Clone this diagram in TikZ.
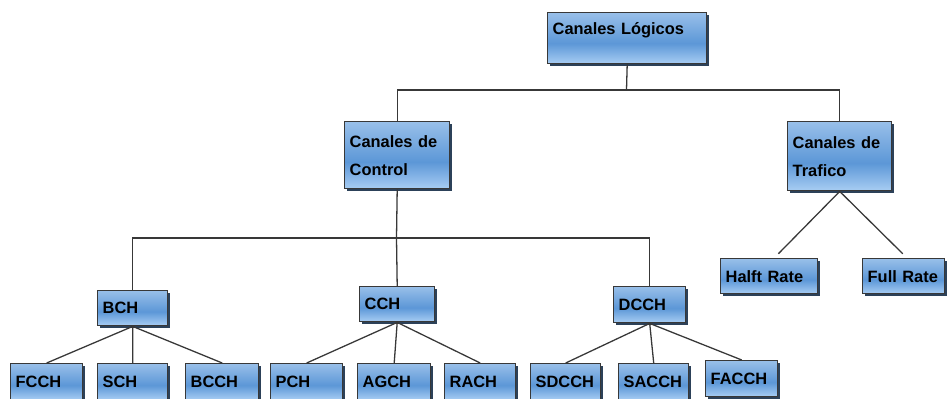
\documentclass[tikz,border=0pt]{standalone}
\usepackage{fontspec}
\setmainfont{Liberation Sans}
\usetikzlibrary{shadows}
\definecolor{boxtop}{HTML}{98BFE9}
\definecolor{boxmid}{HTML}{5C97D7}
\definecolor{boxbot}{HTML}{A8CDF3}
\definecolor{boxline}{HTML}{383838}
\definecolor{boxshadow}{HTML}{2C4159}
\pgfdeclareverticalshading{chan shade}{100bp}{color(0bp)=(boxbot); color(25bp)=(boxbot);
    color(45bp)=(boxmid); color(75bp)=(boxtop); color(100bp)=(boxtop)}
\tikzset{
    chan box/.style = {draw=boxline, line width=1.2pt, anchor=north west,
        shade, shading=chan shade,
        drop shadow={shadow xshift=0.08cm, shadow yshift=-0.08cm, fill=boxshadow, opacity=1},
        font=\bfseries\fontsize{14}{24}\selectfont, align=left,
        inner xsep=0.15cm, inner ysep=0.1cm},
    chan line/.style = {draw=boxline, line width=1.1pt},
}

\begin{document}
\begin{tikzpicture}[x=0.03cm, y=-0.03cm]
            \useasboundingbox (0, 0) rectangle (947, 399);

            \node[chan box, text width=4.47cm, text height=0.56cm, text depth=0.77cm] (logicos) at (547, 12) {Canales Lógicos};

            \node[chan box, text width=2.85cm, minimum height=2.01cm] (control) at (344, 121) {Canales de\\Control};
            \node[chan box, text width=2.82cm, minimum height=2.07cm] (trafico) at (787, 121) {Canales de\\Trafico};

            \node[chan box, text width=1.8cm, minimum height=1.05cm] (bch) at (97, 290) {BCH};
            \node[chan box, text width=1.95cm, minimum height=1.05cm] (cch) at (359, 286) {CCH};
            \node[chan box, text width=1.86cm, minimum height=1.08cm] (dcch) at (613, 286) {DCCH};

            \node[chan box, text width=2.61cm, minimum height=1.05cm] (halft) at (720, 258) {Halft Rate};
            \node[chan box, text width=2.16cm, minimum height=1.05cm] (full) at (862, 258) {Full Rate};

            \node[chan box, text width=1.86cm, minimum height=1.08cm] (fcch) at (10, 363) {FCCH};
            \node[chan box, text width=1.8cm, minimum height=1.08cm] (sch) at (97, 363) {SCH};
            \node[chan box, text width=1.89cm, minimum height=1.08cm] (bcch) at (185, 363) {BCCH};

            \node[chan box, text width=1.86cm, minimum height=1.08cm] (pch) at (270, 363) {PCH};
            \node[chan box, text width=1.89cm, minimum height=1.08cm] (agch) at (357, 363) {AGCH};
            \node[chan box, text width=1.83cm, minimum height=1.08cm] (rach) at (444, 363) {RACH};

            \node[chan box, text width=1.8cm, minimum height=1.08cm] (sdcch) at (530, 363) {SDCCH};
            \node[chan box, text width=1.8cm, minimum height=1.08cm] (sacch) at (618, 363) {SACCH};
            \node[chan box, text width=1.86cm, minimum height=1.08cm] (facch) at (705, 360) {FACCH};

            \coordinate (top join) at (626.5, 90);
            \coordinate (mid join) at (396.5, 238);

            \draw[chan line] (logicos.south) -- (top join);
            \draw[chan line] (control.north) |- (top join) -| (trafico.north);
            \draw[chan line] (control.south) -- (mid join) -- (cch.north);
            \draw[chan line] (bch.north) |- (mid join) -| (dcch.north);
            \draw[chan line, shorten >=0.18cm] (trafico.south) -- ([xshift=0.15cm]halft.north);
            \draw[chan line, shorten >=0.18cm] (trafico.south) -- ([xshift=0.1cm]full.north);
            \draw[chan line] (fcch.north) -- (bch.south) -- (sch.north);
            \draw[chan line] (bch.south) -- (bcch.north);
            \draw[chan line] (pch.north) -- (cch.south) -- (agch.north);
            \draw[chan line] (cch.south) -- (rach.north);
            \draw[chan line] (sdcch.north) -- (dcch.south) -- (sacch.north);
            \draw[chan line] (dcch.south) -- (facch.north);
        \end{tikzpicture}
\end{document}
